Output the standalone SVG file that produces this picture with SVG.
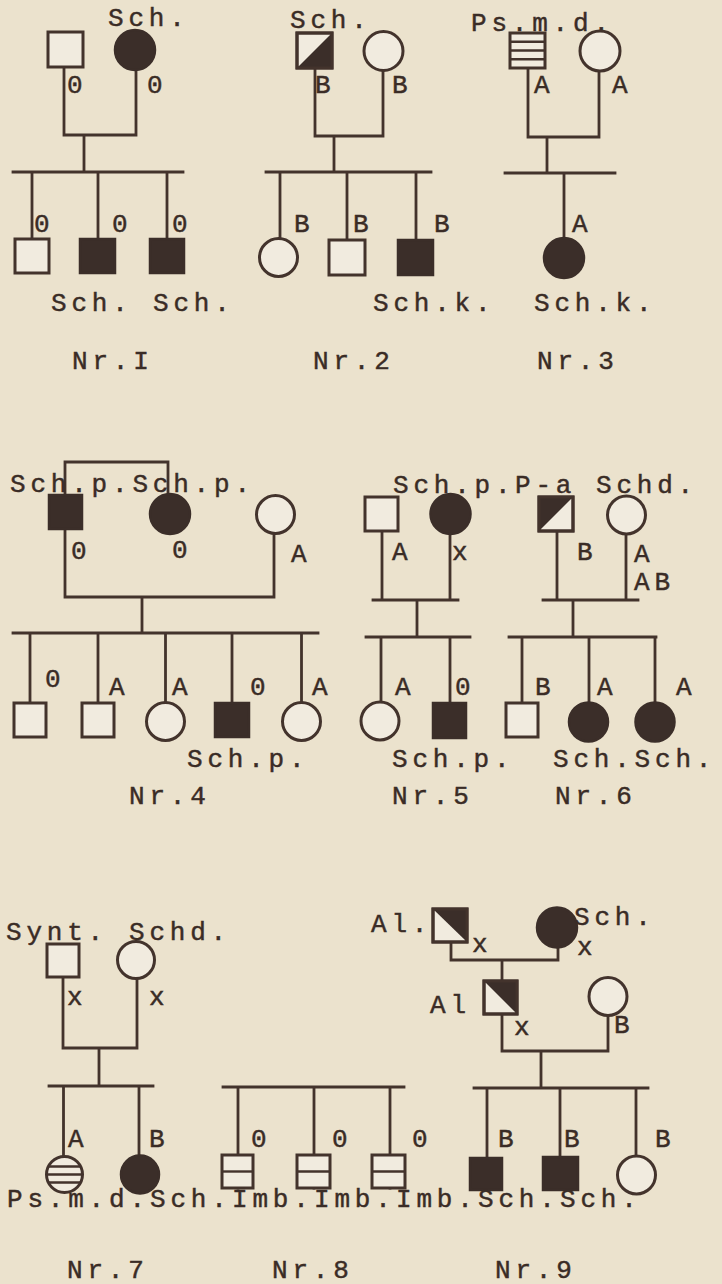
<svg xmlns="http://www.w3.org/2000/svg" width="722" height="1284" viewBox="0 0 722 1284">
<style>
.bg{fill:#ebe2cd}
.ln{stroke:#43332c;stroke-width:2.8;fill:none;stroke-linecap:square}
.op{fill:#f1ebdf;stroke:#43332c;stroke-width:3}
.fl{fill:#3b2e29;stroke:#3b2e29;stroke-width:2.5}
.dk{fill:#3b2e29;stroke:none}
.st{stroke:#43332c;stroke-width:2.4;fill:none}
.bx{fill:none;stroke:#43332c;stroke-width:3}
.t{font-family:"Liberation Mono","DejaVu Sans Mono",monospace;font-size:26px;fill:#3a2c26;stroke:#3a2c26;stroke-width:0.45;letter-spacing:4.8px}
</style>
<rect class="bg" x="0" y="0" width="722" height="1284"/>

<g id="connectors">
<!-- Nr.I -->
<path class="ln" d="M64,67V135H136V70M84,135V172M13,172H183M32,172V239M98,172V239M167,172V239"/>
<!-- Nr.2 -->
<path class="ln" d="M315,68V136H383V71M334,136V172M266,172H431M280,172V238M347,172V240M416,172V240"/>
<!-- Nr.3 -->
<path class="ln" d="M528,68V137H599V71M547,137V173M505,173H615M564,173V238"/>
<!-- Nr.4 -->
<path class="ln" d="M65,495V462H168V494M65,529V597H274V534M142,597V633M13,633H318M30,633V703M98,633V703M165.5,633V702M232,633V703M301.5,633V702"/>
<!-- Nr.5 -->
<path class="ln" d="M373,600H458M382,531V600M450,534V600M417,600V637M366,637H470M381,637V702M450,637V703"/>
<!-- Nr.6 -->
<path class="ln" d="M543,600H638M557,531V600M626,534V600M573,600V637M509,637H656M522,637V703M589,637V702M655,637V702"/>
<!-- Nr.7 -->
<path class="ln" d="M63,977V1048H137V979M99,1048V1086M49,1086H153M63.5,1086V1166M139,1086V1155"/>
<!-- Nr.8 -->
<path class="ln" d="M223,1087H404M238,1087V1188M314,1087V1188M390,1087V1188"/>
<!-- Nr.9 -->
<path class="ln" d="M451,942V960H558V948M502,960V981M502,1014V1051H608V1016M541,1051V1088M474,1088H648M487,1088V1158M560,1088V1157M636,1088V1156"/>
</g>

<!-- ===== Nr.I ===== -->
<g id="n1-father"><rect class="op" x="48" y="32" width="35" height="35"/><text class="t" x="67" y="93">0</text></g>
<g id="n1-mother"><circle class="fl" cx="135" cy="50" r="20"/><text class="t" x="108" y="26">Sch.</text><text class="t" x="147" y="93">0</text></g>
<g id="n1-c1"><rect class="op" x="15" y="239" width="34" height="34"/><text class="t" x="34" y="232">0</text></g>
<g id="n1-c2"><rect class="fl" x="80" y="239" width="35" height="34"/><text class="t" x="112" y="232">0</text></g>
<g id="n1-c3"><rect class="fl" x="150" y="239" width="34" height="34"/><text class="t" x="172" y="232">0</text></g>
<g id="n1-labels"><text class="t" x="51" y="311">Sch. Sch.</text><text class="t" x="72" y="369">Nr.I</text></g>

<!-- ===== Nr.2 ===== -->
<g id="n2-father"><rect class="op" x="297" y="33" width="35" height="35"/><polygon class="dk" points="332,33 332,68 297,68"/><rect class="bx" x="297" y="33" width="35" height="35"/><text class="t" x="290" y="28">Sch.</text><text class="t" x="315" y="93">B</text></g>
<g id="n2-mother"><circle class="op" cx="383.5" cy="51" r="19.5"/><text class="t" x="392" y="93">B</text></g>
<g id="n2-c1"><circle class="op" cx="278.5" cy="257.5" r="19"/><text class="t" x="294" y="232">B</text></g>
<g id="n2-c2"><rect class="op" x="329" y="240" width="36" height="35"/><text class="t" x="353" y="232">B</text></g>
<g id="n2-c3"><rect class="fl" x="398" y="240" width="35" height="35"/><text class="t" x="434" y="232">B</text><text class="t" x="373" y="311">Sch.k.</text></g>
<g id="n2-label"><text class="t" x="313" y="369">Nr.2</text></g>

<!-- ===== Nr.3 ===== -->
<g id="n3-father"><rect class="op" x="510" y="33" width="35" height="35"/><path class="st" d="M510,41.75H545M510,50.5H545M510,59.25H545"/><text class="t" x="471" y="31">Ps.m.d.</text><text class="t" x="534" y="93">A</text></g>
<g id="n3-mother"><circle class="op" cx="600" cy="51" r="20"/><text class="t" x="612" y="93">A</text></g>
<g id="n3-c1"><circle class="fl" cx="564" cy="258" r="20"/><text class="t" x="572" y="232">A</text><text class="t" x="534" y="311">Sch.k.</text></g>
<g id="n3-label"><text class="t" x="537" y="369">Nr.3</text></g>

<!-- ===== Nr.4 ===== -->
<g id="n4-father"><rect class="fl" x="49" y="495" width="33" height="34"/><text class="t" x="71" y="559">0</text></g>
<g id="n4-sister"><circle class="fl" cx="170" cy="514" r="20"/><text class="t" x="172" y="558">0</text></g>
<g id="n4-top-label"><text class="t" x="10" y="492">Sch.p.Sch.p.</text></g>
<g id="n4-mother"><circle class="op" cx="275.5" cy="514.5" r="19"/><text class="t" x="291" y="562">A</text></g>
<g id="n4-c1"><rect class="op" x="14" y="703" width="32" height="34"/><text class="t" x="45" y="687">0</text></g>
<g id="n4-c2"><rect class="op" x="82" y="703" width="32" height="34"/><text class="t" x="109" y="695">A</text></g>
<g id="n4-c3"><circle class="op" cx="165.5" cy="721.5" r="19"/><text class="t" x="172" y="695">A</text></g>
<g id="n4-c4"><rect class="fl" x="215" y="703" width="34" height="34"/><text class="t" x="250" y="695">0</text><text class="t" x="187" y="767">Sch.p.</text></g>
<g id="n4-c5"><circle class="op" cx="301.5" cy="721.5" r="19"/><text class="t" x="312" y="695">A</text></g>
<g id="n4-label"><text class="t" x="129" y="804">Nr.4</text></g>

<!-- ===== Nr.5 ===== -->
<g id="n5-father"><rect class="op" x="365" y="497" width="33" height="34"/><text class="t" x="392" y="560">A</text></g>
<g id="n5-mother"><circle class="fl" cx="450.5" cy="514" r="20"/><text class="t" x="393" y="493">Sch.p.</text><text class="t" x="452" y="560">x</text></g>
<g id="n5-c1"><circle class="op" cx="380" cy="721" r="19"/><text class="t" x="395" y="695">A</text></g>
<g id="n5-c2"><rect class="fl" x="433" y="703" width="33" height="35"/><text class="t" x="455" y="695">0</text><text class="t" x="392" y="767">Sch.p.</text></g>
<g id="n5-label"><text class="t" x="392" y="804">Nr.5</text></g>

<!-- ===== Nr.6 ===== -->
<g id="n6-father"><rect class="op" x="539" y="497" width="34" height="34"/><polygon class="dk" points="539,497 573,497 539,531"/><rect class="bx" x="539" y="497" width="34" height="34"/><text class="t" x="515" y="493">P-a</text><text class="t" x="577" y="560">B</text></g>
<g id="n6-mother"><circle class="op" cx="626.5" cy="515" r="19"/><text class="t" x="596" y="493">Schd.</text><text class="t" x="634" y="562">A</text><text class="t" x="634" y="590">AB</text></g>
<g id="n6-c1"><rect class="op" x="506" y="703" width="32" height="34"/><text class="t" x="535" y="695">B</text></g>
<g id="n6-c2"><circle class="fl" cx="588.5" cy="722" r="19.5"/><text class="t" x="597" y="695">A</text></g>
<g id="n6-c3"><circle class="fl" cx="655" cy="722" r="19.5"/><text class="t" x="676" y="695">A</text></g>
<g id="n6-labels"><text class="t" x="553" y="767">Sch.Sch.</text><text class="t" x="555" y="804">Nr.6</text></g>

<!-- ===== Nr.7 ===== -->
<g id="n7-father"><rect class="op" x="47" y="944" width="32" height="33"/><text class="t" x="6" y="940">Synt.</text><text class="t" x="67" y="1005">x</text></g>
<g id="n7-mother"><circle class="op" cx="136" cy="960" r="18.5"/><text class="t" x="129" y="940">Schd.</text><text class="t" x="149" y="1005">x</text></g>
<g id="n7-c1"><circle class="op" cx="64.5" cy="1174.5" r="18"/><path class="st" d="M48.5,1166.5H80.5M46.5,1174.5H82.5M48.5,1182.5H80.5"/><text class="t" x="68" y="1147">A</text><text class="t" x="7" y="1207">Ps.m.d.</text></g>
<g id="n7-c2"><circle class="fl" cx="140" cy="1174.5" r="19"/><text class="t" x="149" y="1147">B</text><text class="t" x="150" y="1207">Sch.</text></g>
<g id="n7-label"><text class="t" x="67" y="1278">Nr.7</text></g>

<!-- ===== Nr.8 ===== -->
<g id="n8-c1"><rect class="op" x="222" y="1155" width="31" height="33"/><path class="st" d="M222,1171.5H253"/><text class="t" x="251" y="1147">0</text><text class="t" x="232" y="1207">Imb.</text></g>
<g id="n8-c2"><rect class="op" x="297" y="1155" width="33" height="33"/><path class="st" d="M297,1171.5H330"/><text class="t" x="332" y="1147">0</text><text class="t" x="314" y="1207">Imb.</text></g>
<g id="n8-c3"><rect class="op" x="372" y="1155" width="33" height="33"/><path class="st" d="M372,1171.5H405"/><text class="t" x="412" y="1147">0</text><text class="t" x="396" y="1207">Imb.</text></g>
<g id="n8-label"><text class="t" x="272" y="1278">Nr.8</text></g>

<!-- ===== Nr.9 ===== -->
<g id="n9-grandfather"><rect class="op" x="433" y="909" width="34" height="33"/><polygon class="dk" points="433,909 467,909 467,942"/><rect class="bx" x="433" y="909" width="34" height="33"/><text class="t" x="371" y="932">Al.</text><text class="t" x="472" y="952">x</text></g>
<g id="n9-grandmother"><circle class="fl" cx="557" cy="927.5" r="20"/><text class="t" x="574" y="925">Sch.</text><text class="t" x="577" y="955">x</text></g>
<g id="n9-father"><rect class="op" x="484" y="981" width="33" height="33"/><polygon class="dk" points="484,981 517,981 517,1014"/><rect class="bx" x="484" y="981" width="33" height="33"/><text class="t" x="430" y="1013">Al</text><text class="t" x="514" y="1035">x</text></g>
<g id="n9-mother"><circle class="op" cx="608" cy="996.5" r="19"/><text class="t" x="614" y="1033">B</text></g>
<g id="n9-c1"><rect class="fl" x="470" y="1158" width="32" height="32"/><text class="t" x="498" y="1147">B</text><text class="t" x="478" y="1207">Sch.</text></g>
<g id="n9-c2"><rect class="fl" x="543" y="1157" width="35" height="33"/><text class="t" x="564" y="1147">B</text><text class="t" x="560" y="1207">Sch.</text></g>
<g id="n9-c3"><circle class="op" cx="636.5" cy="1175" r="19"/><text class="t" x="655" y="1147">B</text></g>
<g id="n9-label"><text class="t" x="495" y="1278">Nr.9</text></g>
</svg>
